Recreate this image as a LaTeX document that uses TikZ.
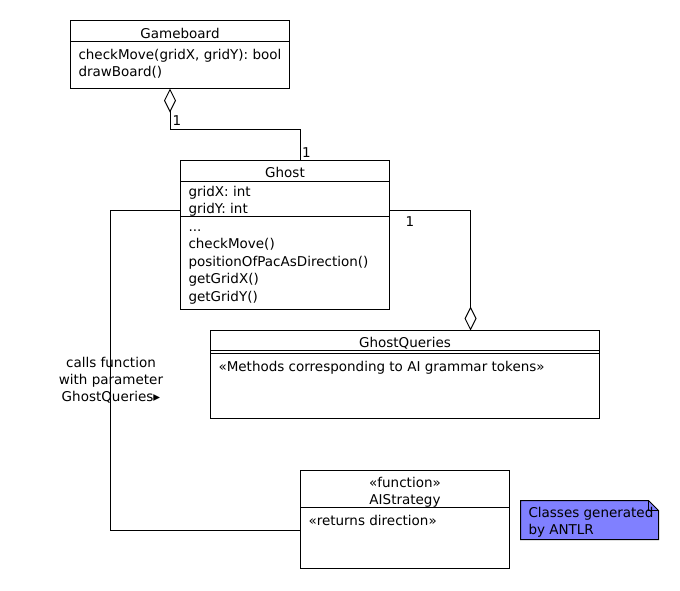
\documentclass[tikz,border=0pt]{standalone}
\usepackage{fontspec}
\setmainfont{DejaVu Sans}
\usepackage{tikz}
\usetikzlibrary{arrows.meta}

\definecolor{notecolor}{RGB}{128,128,255}
\newcommand{\umlfont}{\fontsize{13.5}{17}\selectfont}

\tikzset{
  classbox/.style = {draw, rectangle, anchor = north west, inner sep = 0pt, outer sep = 0pt},
  classname/.style = {anchor = base, inner sep = 0pt},
  member/.style = {anchor = base west, inner sep = 0pt},
  mult/.style = {anchor = base west, inner sep = 0pt},
  aggregation/.style = {{Diamond[open, length = 24pt, width = 12pt]}-},
}

\begin{document}
\begin{tikzpicture}[x = 1pt, y = -1pt, line width = 1pt, font = \umlfont]
\useasboundingbox (0, 0) rectangle (680, 590);

% Gameboard
\node[classbox, minimum width = 219, minimum height = 68] (gameboard) at (70.5, 20.5) {};
\draw ([yshift = -21]gameboard.north west) -- ([yshift = -21]gameboard.north east);
\node[classname] (gameboardName) at (180, 38) {Gameboard};
\node[member] (gbCheck) at (78, 59) {checkMove(gridX, gridY): bool};
\node[member] (gbDraw) at (78, 76) {drawBoard()};

% Ghost
\node[classbox, minimum width = 209, minimum height = 148.5] (ghost) at (180.5, 160.5) {};
\draw ([yshift = -20.5]ghost.north west) -- ([yshift = -20.5]ghost.north east);
\draw ([yshift = -56]ghost.north west) -- ([yshift = -56]ghost.north east);
\node[classname] (ghostName) at (285, 177) {Ghost};
\foreach \txt [count = \i] in {gridX: int, gridY: int}
  \node[member] (ghostAttr\i) at (188, 179.5 + 17*\i) {\txt};
\node[member] (ghostDots) at (188, 231.5) {...};
\foreach \txt [count = \i] in {checkMove(), positionOfPacAsDirection(), getGridX(), getGridY()}
  \node[member] (ghostOp\i) at (188, 231.5 + 17.4*\i) {\txt};

% GhostQueries
\node[classbox, minimum width = 389, minimum height = 88] (queries) at (210.5, 330.5) {};
\draw ([yshift = -20]queries.north west) -- ([yshift = -20]queries.north east);
\draw ([yshift = -22.7]queries.north west) -- ([yshift = -22.7]queries.north east);
\node[classname] (queriesName) at (405, 347) {GhostQueries};
\node[member] (queriesBody) at (218, 371) {«Methods corresponding to AI grammar tokens»};

% AIStrategy
\node[classbox, minimum width = 209, minimum height = 98] (strategy) at (300.5, 470.5) {};
\draw ([yshift = -36.5]strategy.north west) -- ([yshift = -36.5]strategy.north east);
\node[classname] (strategyStereo) at (405, 487) {«function»};
\node[classname] (strategyName) at (405, 504.5) {AIStrategy};
\node[member] (strategyBody) at (308, 525) {«returns direction»};

% note
\node[classbox, draw = none, minimum width = 138, minimum height = 39] (note) at (520.5, 500.5) {};
\filldraw[fill = notecolor] (note.north west) -- ([xshift = -10]note.north east) -- ([yshift = -10]note.north east)
  -- (note.south east) -- (note.south west) -- cycle;
\draw ([xshift = -10]note.north east) -- ([xshift = -10, yshift = -10]note.north east) -- ([yshift = -10]note.north east);
\node[member] (noteLine1) at (528, 517.5) {Classes generated};
\node[member] (noteLine2) at (528, 534) {by ANTLR};

% connectors
\draw[aggregation] ([xshift = 99.5]gameboard.south west) -- ++(0, 41) -| ([xshift = 120]ghost.north west);
\node[mult] (multBoard) at (172, 125) {1};
\node[mult] (multGhost) at (301.5, 157) {1};

\draw[aggregation] ([xshift = 260]queries.north west) |- ([yshift = -50]ghost.north east);
\node[mult] (multQueries) at (405, 226) {1};

\draw ([yshift = -50]ghost.north west) -- ++(-70, 0) |- ([yshift = -59.5]strategy.north west);
\node[align = center, inner sep = 0pt] (callsLabel) at (111, 380.5) {calls function\\with parameter\\GhostQueries▸};

\end{tikzpicture}
\end{document}
